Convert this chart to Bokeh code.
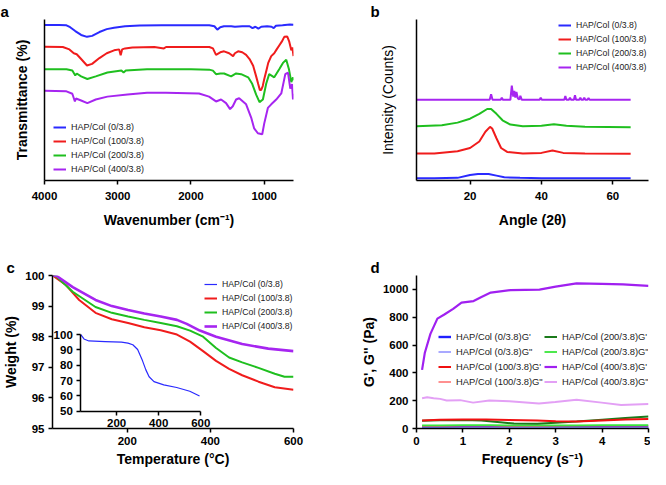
from bokeh.plotting import figure
from bokeh.models import Range1d, FixedTicker, LinearAxis, Legend, LegendItem
from bokeh.layouts import column, row
from bokeh.embed import file_html
from bokeh.resources import INLINE

# ---------------- data ----------------
# (a) FTIR, transmittance in arbitrary offset units
a_blue_w = [4000, 3800, 3700, 3650, 3580, 3500, 3420, 3350, 3250, 3150, 3050, 2900, 2700, 2400, 2000, 1750, 1680, 1640, 1600, 1550, 1450, 1400, 1300, 1200, 1160, 1120, 1080, 1040, 960, 900, 870, 840, 750, 650, 600]
a_blue_t = [161.3, 161.3, 161, 159, 155, 151, 149, 150, 154, 157, 158.5, 160, 160.7, 161, 161, 161, 160, 156.5, 159, 160, 160, 159.5, 160, 160, 158, 159.5, 157.5, 159.5, 160, 159.5, 158, 160.5, 161, 161.7, 161.5]
a_red_w = [4000, 3750, 3660, 3600, 3560, 3500, 3420, 3350, 3250, 3150, 3050, 2980, 2960, 2940, 2900, 2800, 2500, 2370, 2340, 2000, 1750, 1700, 1658, 1600, 1548, 1479, 1425, 1400, 1356, 1300, 1247, 1200, 1151, 1110, 1082, 1060, 1041, 1020, 1000, 970, 945, 904, 863, 830, 795, 760, 726, 685, 658, 630, 615, 600]
a_red_t = [138.7, 138.5, 136, 132, 131, 126, 119.3, 121, 127, 132, 135, 136, 130, 136, 137, 138, 138.5, 137, 138.5, 138.5, 138.5, 137, 130.3, 133, 134, 132, 129, 132, 134, 133, 130.3, 126, 119, 108, 100, 94, 94, 98, 105, 114, 122, 129, 132, 136, 140, 144, 149, 149.3, 144, 135, 138, 129]
a_green_w = [4000, 3700, 3620, 3580, 3560, 3500, 3415, 3300, 3141, 2950, 2920, 2890, 2600, 2000, 1750, 1700, 1658, 1600, 1548, 1452, 1384, 1315, 1219, 1164, 1110, 1064, 1018, 973, 932, 863, 795, 744, 699, 662, 630, 607, 600]
a_green_t = [115.3, 115.3, 114, 109, 111, 108, 105.3, 108, 112, 114, 112, 114, 115.5, 115.5, 115, 114, 110.3, 111, 111, 108, 111, 110.3, 107, 100.3, 89, 81.3, 84, 100.3, 110.3, 107, 115.3, 122, 125.3, 115.3, 102, 107, 104]
a_purple_w = [4000, 3700, 3620, 3585, 3570, 3500, 3415, 3300, 3141, 2867, 2600, 2342, 1890, 1753, 1658, 1589, 1521, 1466, 1429, 1384, 1342, 1247, 1178, 1137, 1087, 1027, 1000, 950, 904, 836, 767, 712, 675, 644, 620, 607, 600]
a_purple_t = [93, 92.5, 90, 82, 85, 83, 80.3, 84, 87, 89.3, 91, 91, 90.3, 87, 82, 84, 80.3, 74, 77, 84, 85.3, 79, 65.3, 54, 49, 48, 59, 75.3, 79, 84, 90.3, 110.3, 112, 95.3, 100, 84, 90]

# (b) XRD, intensity in arbitrary offset counts
b_blue_x = [5, 10, 16.5, 20, 22.2, 25.2, 27.4, 29.6, 34, 40, 50, 60, 65]
b_blue_y = [2.3, 2.3, 2.7, 5.7, 6.7, 6.7, 5, 3.3, 2.7, 2.3, 2.3, 2.3, 2.3]
b_red_x = [5, 10, 16.5, 20, 22.6, 24.3, 25.6, 26.2, 27.4, 28.7, 30.4, 34.8, 40, 43.1, 46.1, 52.2, 65]
b_red_y = [27.7, 27.7, 30, 33.3, 40, 50, 55, 53.3, 43.3, 33.3, 29.3, 27.7, 28.3, 30.7, 28.3, 27.7, 27.3]
b_green_x = [5, 12.1, 16.5, 20, 22.6, 24.8, 25.9, 27.4, 29.1, 31.3, 34.8, 40, 43.5, 47, 52.2, 65]
b_green_y = [55.7, 56.7, 59.3, 63.3, 68.3, 73.3, 73.3, 68.3, 61.7, 57.3, 55.7, 56, 57.7, 56, 55, 54.7]
b_purple_x = [5, 25.5, 25.9, 26.3, 28.6, 28.9, 29.2, 31.3, 31.7, 32.1, 32.4, 32.7, 33.0, 33.4, 33.8, 34.1, 34.5, 39.5, 39.8, 40.1, 46.4, 46.7, 47.0, 47.7, 48.0, 48.3, 49.1, 49.4, 49.7, 50.6, 50.9, 51.2, 51.7, 52.0, 52.3, 52.9, 53.2, 53.5, 65]
b_purple_y = [82.7, 82.7, 88.3, 82.7, 82.7, 85, 82.7, 82.7, 97.3, 86, 91.7, 85, 90.7, 84, 83, 86.7, 82.7, 82.7, 85, 82.7, 82.7, 86.7, 82.7, 82.7, 85, 82.7, 82.7, 87.3, 82.7, 82.7, 85, 82.7, 82.7, 85, 82.7, 82.7, 84.5, 82.7, 82.7]

# (c) TGA
c_red_T = [20, 52.9, 84.2, 123.5, 162.8, 201.9, 241, 280.5, 319.5, 351, 382.4, 413.6, 445, 476.5, 515.8, 554.9, 600]
c_red_w = [100, 99.68, 99.2, 98.78, 98.57, 98.45, 98.31, 98.21, 98.07, 97.84, 97.53, 97.21, 96.95, 96.74, 96.53, 96.35, 96.27]
c_green_T = [20, 29.4, 68.7, 123.5, 162.8, 201.9, 241, 280.5, 319.5, 351, 382.4, 413.6, 445, 476.5, 515.8, 554.9, 578.4, 600]
c_green_w = [100, 99.97, 99.47, 98.97, 98.78, 98.66, 98.55, 98.45, 98.34, 98.2, 98.0, 97.63, 97.32, 97.16, 96.98, 96.79, 96.69, 96.69]
c_purple_T = [20, 29.4, 68.7, 123.5, 162.8, 201.9, 241, 280.5, 319.5, 343, 374.6, 413.6, 476.5, 539.3, 600]
c_purple_w = [100, 99.99, 99.62, 99.2, 99.0, 98.87, 98.76, 98.66, 98.55, 98.42, 98.2, 98.0, 97.76, 97.61, 97.53]
c_blue_T = [30, 45, 68.5, 145.8, 223.2, 254, 277, 300, 323.3, 339, 354.4, 377.5, 423.9, 485.5, 547.6, 594]
c_blue_w = [100, 97.2, 95.9, 95.5, 95.1, 94.5, 93.4, 90.3, 82.9, 77.0, 72.5, 69.3, 67.2, 65.5, 63.0, 59.9]

# (d) rheology
d_f_400 = [0.12, 0.18, 0.30, 0.45, 0.60, 0.79, 0.97, 1.23, 1.40, 1.60, 2.03, 2.65, 3.00, 3.45, 4.00, 4.45, 5.0]
d_g1_400 = [421, 545, 680, 790, 820, 860, 905, 916, 945, 977, 995, 999, 1020, 1043, 1040, 1036, 1025]
d_f_400b = [0.12, 0.23, 0.37, 0.51, 0.65, 0.94, 1.22, 1.57, 2.0, 2.64, 2.99, 3.45, 3.99, 4.41, 5.0]
d_g2_400 = [217, 224, 217, 213, 202, 204, 186, 202, 196, 180, 191, 206, 186, 169, 176]
d_f_200 = [0.12, 0.5, 1.0, 1.4, 1.8, 2.1, 2.6, 3.0, 3.45, 4.0, 4.5, 5.0]
d_g1_200 = [55, 60, 62, 57, 45, 36, 35, 42, 50, 63, 75, 86]
d_f_100 = [0.12, 0.5, 1.0, 1.5, 2.0, 2.6, 3.0, 3.45, 4.0, 4.5, 5.0]
d_g1_100 = [58, 63, 65, 65, 62, 57, 52, 50, 58, 65, 68]
d_f_low = [0.12, 0.5, 1.0, 1.6, 2.0, 2.65, 3.45, 4.0, 5.0]
d_g1_0 = [10, 11, 12, 12, 12, 13, 13, 12, 12]
d_g2_0 = [4, 4, 5, 5, 5, 5, 6, 5, 5]
d_g2_100 = [18, 18, 19, 19, 18, 18, 19, 20, 20]
d_g2_200 = [22, 23, 24, 24, 23, 22, 23, 24, 24]

names = ["HAP/Col (0/3.8)", "HAP/Col (100/3.8)", "HAP/Col (200/3.8)", "HAP/Col (400/3.8)"]

# ---------------- styling ----------------
FONT = "Liberation Sans"
BLUE, RED, GREEN, PURPLE = "#2a2aff", "#f01c1c", "#1fbf1f", "#a625f0"


def style_axis(ax, label_bold=True):
    ax.axis_line_width = 1.5
    ax.axis_line_color = "black"
    ax.major_tick_line_width = 1.5
    ax.major_tick_out = 4
    ax.major_tick_in = 0
    ax.minor_tick_line_color = None
    ax.major_label_text_font = FONT
    ax.major_label_text_font_style = "bold"
    ax.major_label_text_font_size = "11.5px"
    ax.major_label_text_color = "black"
    ax.major_label_standoff = 4
    ax.axis_label_text_font = FONT
    ax.axis_label_text_font_style = "bold" if label_bold else "normal"
    ax.axis_label_text_font_size = "14px"
    ax.axis_label_text_color = "black"
    ax.axis_label_standoff = 3


def make_fig(w, h, xr, yr, borders, letter, letter_offset):
    p = figure(width=w, height=h, x_range=xr, y_range=yr, output_backend="svg",
               toolbar_location=None, min_border_left=borders[0], min_border_right=borders[1],
               min_border_top=borders[2], min_border_bottom=borders[3], title=letter)
    p.title.align = "left"
    p.title.offset = letter_offset
    p.title.standoff = 0
    p.title.text_font = FONT
    p.title.text_font_style = "bold"
    p.title.text_font_size = "15px"
    p.title.text_color = "black"
    p.grid.visible = False
    p.outline_line_color = None
    for ax in p.axis:
        style_axis(ax)
    return p


def make_legend(items, loc, size="9px", pitch_h=10):
    lg = Legend(items=items, location=loc)
    lg.label_text_font = FONT
    lg.label_text_font_size = size
    lg.label_text_color = "#222222"
    lg.glyph_width = 13
    lg.glyph_height = pitch_h
    lg.label_height = pitch_h
    lg.spacing = 4
    lg.padding = 0
    lg.margin = 0
    lg.label_standoff = 5
    lg.border_line_color = None
    lg.background_fill_alpha = 0
    return lg


# ---------------- panel a ----------------
pa = make_fig(333, 234, Range1d(4000, 600), Range1d(0, 167), (44, 40, 15, 52), "a", -44)
pa.xaxis.ticker = FixedTicker(ticks=[4000, 3000, 2000, 1000])
pa.yaxis.ticker = FixedTicker(ticks=[])
pa.xaxis.axis_label = "Wavenumber (cm\u207b\u00b9)"
pa.yaxis.axis_label = "Transmittance (%)"
pa.yaxis.axis_label_standoff = 15
pa.xaxis.major_label_standoff = 7
pa.xaxis.axis_label_standoff = 9
ra = []
for xs, ys, c in [(a_blue_w, a_blue_t, BLUE), (a_red_w, a_red_t, RED),
                  (a_green_w, a_green_t, GREEN), (a_purple_w, a_purple_t, PURPLE)]:
    ra.append(pa.line(xs, ys, line_color=c, line_width=2))
pa.add_layout(make_legend([LegendItem(label=n, renderers=[r]) for n, r in zip(names, ra)], (9, 6)))

# ---------------- panel b ----------------
pb = make_fig(317, 234, Range1d(5, 70), Range1d(0, 165), (83, 2, 15, 54), "b", -46)
pb.xaxis.ticker = FixedTicker(ticks=[20, 40, 60])
pb.yaxis.ticker = FixedTicker(ticks=[])
pb.xaxis.axis_label = "Angle (2\u03b8)"
pb.yaxis.axis_label = "Intensity (Counts)"
pb.yaxis.axis_label_text_font_style = "normal"
pb.yaxis.axis_label_standoff = 21
pb.xaxis.major_label_standoff = 7
pb.xaxis.axis_label_standoff = 9
rb = []
for xs, ys, c in [(b_blue_x, b_blue_y, BLUE), (b_red_x, b_red_y, RED),
                  (b_green_x, b_green_y, GREEN), (b_purple_x, b_purple_y, PURPLE)]:
    rb.append(pb.line(xs, ys, line_color=c, line_width=2))
pb.add_layout(make_legend([LegendItem(label=n, renderers=[r]) for n, r in zip(names, rb)],
                          (142, 108), size="8.7px"))

# ---------------- panel c ----------------
pc = make_fig(333, 235, Range1d(20, 600), Range1d(95, 100), (46, 40, 41, 41), "c", -46)
pc.xaxis.ticker = FixedTicker(ticks=[200, 400, 600])
pc.yaxis.ticker = FixedTicker(ticks=[95, 96, 97, 98, 99, 100])
pc.xaxis.axis_label = "Temperature (\u00b0C)"
pc.yaxis.axis_label = "Weight (%)"
pc.yaxis.axis_label_standoff = 3

# inset placed as fractions of the frame
ix_lo, ix_hi, iy_lo, iy_hi = 30, 600, 50, 100
fx0, fx1, fy0, fy1 = 0.1174, 0.6154, 0.1132, 0.6132
span_x = (ix_hi - ix_lo) / (fx1 - fx0)
span_y = (iy_hi - iy_lo) / (fy1 - fy0)
pc.extra_x_ranges = {"ix": Range1d(ix_lo - fx0 * span_x, ix_lo - fx0 * span_x + span_x)}
pc.extra_y_ranges = {"iy": Range1d(iy_lo - fy0 * span_y, iy_lo - fy0 * span_y + span_y)}
iax_y = LinearAxis(x_range_name="ix", y_range_name="iy", fixed_location=ix_lo, bounds=(iy_lo, iy_hi),
                   ticker=FixedTicker(ticks=[50, 60, 70, 80, 90, 100]))
iax_x = LinearAxis(x_range_name="ix", y_range_name="iy", fixed_location=iy_lo, bounds=(ix_lo, ix_hi),
                   ticker=FixedTicker(ticks=[200, 400, 600]))
style_axis(iax_y)
style_axis(iax_x)
pc.add_layout(iax_y, "left")
pc.add_layout(iax_x, "below")

rc_blue = pc.line(c_blue_T, c_blue_w, line_color=BLUE, line_width=1.2, x_range_name="ix", y_range_name="iy")
rc_red = pc.line(c_red_T, c_red_w, line_color=RED, line_width=2)
rc_green = pc.line(c_green_T, c_green_w, line_color=GREEN, line_width=2)
rc_purple = pc.line(c_purple_T, c_purple_w, line_color=PURPLE, line_width=2.6)
pc.add_layout(make_legend([LegendItem(label=n, renderers=[r]) for n, r in
                           zip(names, [rc_blue, rc_red, rc_green, rc_purple])], (152, 97), size="8.7px"))

# ---------------- panel d ----------------
pd_ = make_fig(317, 235, Range1d(0, 5), Range1d(0, 1100), (83, 2, 35, 41), "d", -46)
pd_.xaxis.ticker = FixedTicker(ticks=[0, 1, 2, 3, 4, 5])
pd_.yaxis.ticker = FixedTicker(ticks=[0, 200, 400, 600, 800, 1000])
pd_.xaxis.axis_label = "Frequency (s\u207b\u00b9)"
pd_.yaxis.axis_label = "G', G'' (Pa)"

r_g1_0 = pd_.line(d_f_low, d_g1_0, line_color="#2020ff", line_width=2.4)
r_g2_0 = pd_.line(d_f_low, d_g2_0, line_color="#8c8cff", line_width=1.5)
r_g2_100 = pd_.line(d_f_low, d_g2_100, line_color="#ff6b6b", line_width=1.5)
r_g2_200 = pd_.line(d_f_low, d_g2_200, line_color="#39e639", line_width=1.8)
r_g1_200 = pd_.line(d_f_200, d_g1_200, line_color="#1b7a1b", line_width=2)
r_g1_100 = pd_.line(d_f_100, d_g1_100, line_color="#f01010", line_width=2)
r_g2_400 = pd_.line(d_f_400b, d_g2_400, line_color="#e3a0f5", line_width=2)
r_g1_400 = pd_.line(d_f_400, d_g1_400, line_color="#a020f0", line_width=2.2)

left_items = [LegendItem(label="HAP/Col (0/3.8)G'", renderers=[r_g1_0]),
              LegendItem(label='HAP/Col (0/3.8)G"', renderers=[r_g2_0]),
              LegendItem(label="HAP/Col (100/3.8)G'", renderers=[r_g1_100]),
              LegendItem(label='HAP/Col (100/3.8)G"', renderers=[r_g2_100])]
right_items = [LegendItem(label="HAP/Col (200/3.8)G'", renderers=[r_g1_200]),
               LegendItem(label='HAP/Col (200/3.8)G"', renderers=[r_g2_200]),
               LegendItem(label="HAP/Col (400/3.8)G'", renderers=[r_g1_400]),
               LegendItem(label='HAP/Col (400/3.8)G"', renderers=[r_g2_400])]
pd_.add_layout(make_legend(left_items, (22, 41), size="9.4px", pitch_h=11))
pd_.add_layout(make_legend(right_items, (128, 41), size="9.4px", pitch_h=11))

layout = column(row(pa, pb), row(pc, pd_))
open("out.html", "w").write(file_html(layout, INLINE))
